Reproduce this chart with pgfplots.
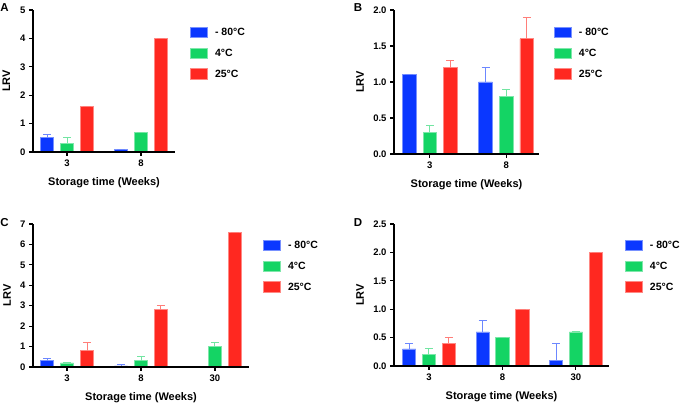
\documentclass[border=0pt]{standalone}
\usepackage{fontspec}
\setmainfont{Liberation Sans}
\usepackage{pgfplots}
\pgfplotsset{compat=1.18}

\definecolor{cb}{RGB}{10,55,255}
\definecolor{cg}{RGB}{20,212,100}
\definecolor{cr}{RGB}{255,40,32}

\pgfplotsset{
  panel/.style={
    scale only axis,
    axis lines=left,
    axis line style={-, line width=1.3pt},
    axis on top,
    ymin=0,
    tick align=outside,
    major tick length=4pt,
    tick style={black, line width=1.1pt},
    minor tick num=0,
    ticklabel style={font=\bfseries\fontsize{9.5}{11}\selectfont},
    /pgf/number format/assume math mode=true,
    label style={font=\bfseries\fontsize{11}{13}\selectfont},
    xlabel={Storage time (Weeks)},
    ylabel={LRV},
    xlabel style={at={(axis description cs:0.5,0)}, anchor=center, yshift=-31pt},
    ybar, bar width=0.18,
    legend style={draw=none, fill=none, anchor=north west,
      font=\bfseries\fontsize{10.5}{12}\selectfont,
      row sep=8pt, inner sep=0pt,
      /tikz/every odd column/.append style={column sep=5pt}},
    legend cell align=left,
  },
  errs/.style={error bars/.cd, y dir=plus, y explicit,
    error bar style={#1!60!white, line width=1pt},
    error mark options={rotate=90, #1!60!white, line width=1pt, mark size=4pt}},
  bluebar/.style={fill=cb, draw=cb!55!white, line width=0.8pt, bar shift=-0.27,
    legend image code/.code={\draw[fill=cb, draw=cb!55!white, line width=0.8pt] (0pt,-5pt) rectangle (17pt,5.5pt);},
    errs=cb},
  greenbar/.style={fill=cg, draw=cg!55!white, line width=0.8pt, bar shift=0,
    legend image code/.code={\draw[fill=cg, draw=cg!55!white, line width=0.8pt] (0pt,-5pt) rectangle (17pt,5.5pt);},
    errs=cg},
  redbar/.style={fill=cr, draw=cr!55!white, line width=0.8pt, bar shift=0.27,
    legend image code/.code={\draw[fill=cr, draw=cr!55!white, line width=0.8pt] (0pt,-5pt) rectangle (17pt,5.5pt);},
    errs=cr},
}

\begin{document}
\begin{tikzpicture}
\useasboundingbox (0,0) rectangle (685pt,406pt);

% ---------- A
\begin{axis}[panel, at={(33pt,254pt)}, anchor=south west,
  width=142pt, height=142pt,
  xmin=-0.46, xmax=1.46, ymax=5,
  xtick={0,1}, xticklabels={3,8}, ytick={0,1,2,3,4,5},
  ylabel style={at={(axis description cs:-0.187,0.5)}, anchor=center},
  legend style={at={(axis description cs:1.106,0.887)}},
]
\addplot[bluebar] coordinates {(0,0.5) +- (0,0.1) (1,0.1) +- (0,0)};
\addlegendentry{- 80°C}
\addplot[greenbar] coordinates {(0,0.3) +- (0,0.2) (1,0.7) +- (0,0)};
\addlegendentry{4°C}
\addplot[redbar] coordinates {(0,1.6) +- (0,0) (1,4.0) +- (0,0)};
\addlegendentry{25°C}
\end{axis}

% ---------- B
\begin{axis}[panel, at={(394pt,252pt)}, anchor=south west,
  width=145pt, height=144pt,
  xmin=-0.47, xmax=1.43, ymax=2,
  xtick={0,1}, xticklabels={3,8}, ytick={0,0.5,1,1.5,2},
  yticklabel style={/pgf/number format/.cd, fixed, fixed zerofill, precision=1},
  ylabel style={at={(axis description cs:-0.234,0.5)}, anchor=center},
  legend style={at={(axis description cs:1.103,0.889)}},
]
\addplot[bluebar] coordinates {(0,1.1) +- (0,0) (1,1.0) +- (0,0.2)};
\addlegendentry{- 80°C}
\addplot[greenbar] coordinates {(0,0.3) +- (0,0.1) (1,0.8) +- (0,0.1)};
\addlegendentry{4°C}
\addplot[redbar] coordinates {(0,1.2) +- (0,0.1) (1,1.6) +- (0,0.3)};
\addlegendentry{25°C}
\end{axis}

% ---------- C
\begin{axis}[panel, at={(33pt,39pt)}, anchor=south west,
  width=216pt, height=143pt,
  xmin=-0.46, xmax=2.46, ymax=7,
  xtick={0,1,2}, xticklabels={3,8,30}, ytick={0,1,2,3,4,5,6,7},
  ylabel style={at={(axis description cs:-0.12,0.5)}, anchor=center},
  legend style={at={(axis description cs:1.065,0.895)}},
]
\addplot[bluebar] coordinates {(0,0.3) +- (0,0.1) (1,0.05) +- (0,0.05)};
\addlegendentry{- 80°C}
\addplot[greenbar] coordinates {(0,0.2) +- (0,0) (1,0.3) +- (0,0.2) (2,1.0) +- (0,0.2)};
\addlegendentry{4°C}
\addplot[redbar] coordinates {(0,0.8) +- (0,0.4) (1,2.8) +- (0,0.2) (2,6.6) +- (0,0)};
\addlegendentry{25°C}
\end{axis}

% ---------- D
\begin{axis}[panel, at={(394pt,40pt)}, anchor=south west,
  width=215pt, height=142pt,
  xmin=-0.476, xmax=2.45, ymax=2.5,
  xtick={0,1,2}, xticklabels={3,8,30}, ytick={0,0.5,1,1.5,2,2.5},
  yticklabel style={/pgf/number format/.cd, fixed, fixed zerofill, precision=1},
  ylabel style={at={(axis description cs:-0.158,0.5)}, anchor=center},
  legend style={at={(axis description cs:1.074,0.894)}},
]
\addplot[bluebar] coordinates {(0,0.3) +- (0,0.1) (1,0.6) +- (0,0.2) (2,0.1) +- (0,0.3)};
\addlegendentry{- 80°C}
\addplot[greenbar] coordinates {(0,0.2) +- (0,0.1) (1,0.5) +- (0,0) (2,0.6) +- (0,0)};
\addlegendentry{4°C}
\addplot[redbar] coordinates {(0,0.4) +- (0,0.1) (1,1.0) +- (0,0) (2,2.0) +- (0,0)};
\addlegendentry{25°C}
\end{axis}

% panel letters
\begin{scope}[every node/.style={font=\bfseries\fontsize{11.5}{13}\selectfont, inner sep=0pt}]
\node at (4.5pt,398.5pt) {A};
\node at (358pt,398.5pt) {B};
\node at (4.5pt,183pt) {C};
\node at (358pt,183.5pt) {D};
\end{scope}
\end{tikzpicture}
\end{document}
